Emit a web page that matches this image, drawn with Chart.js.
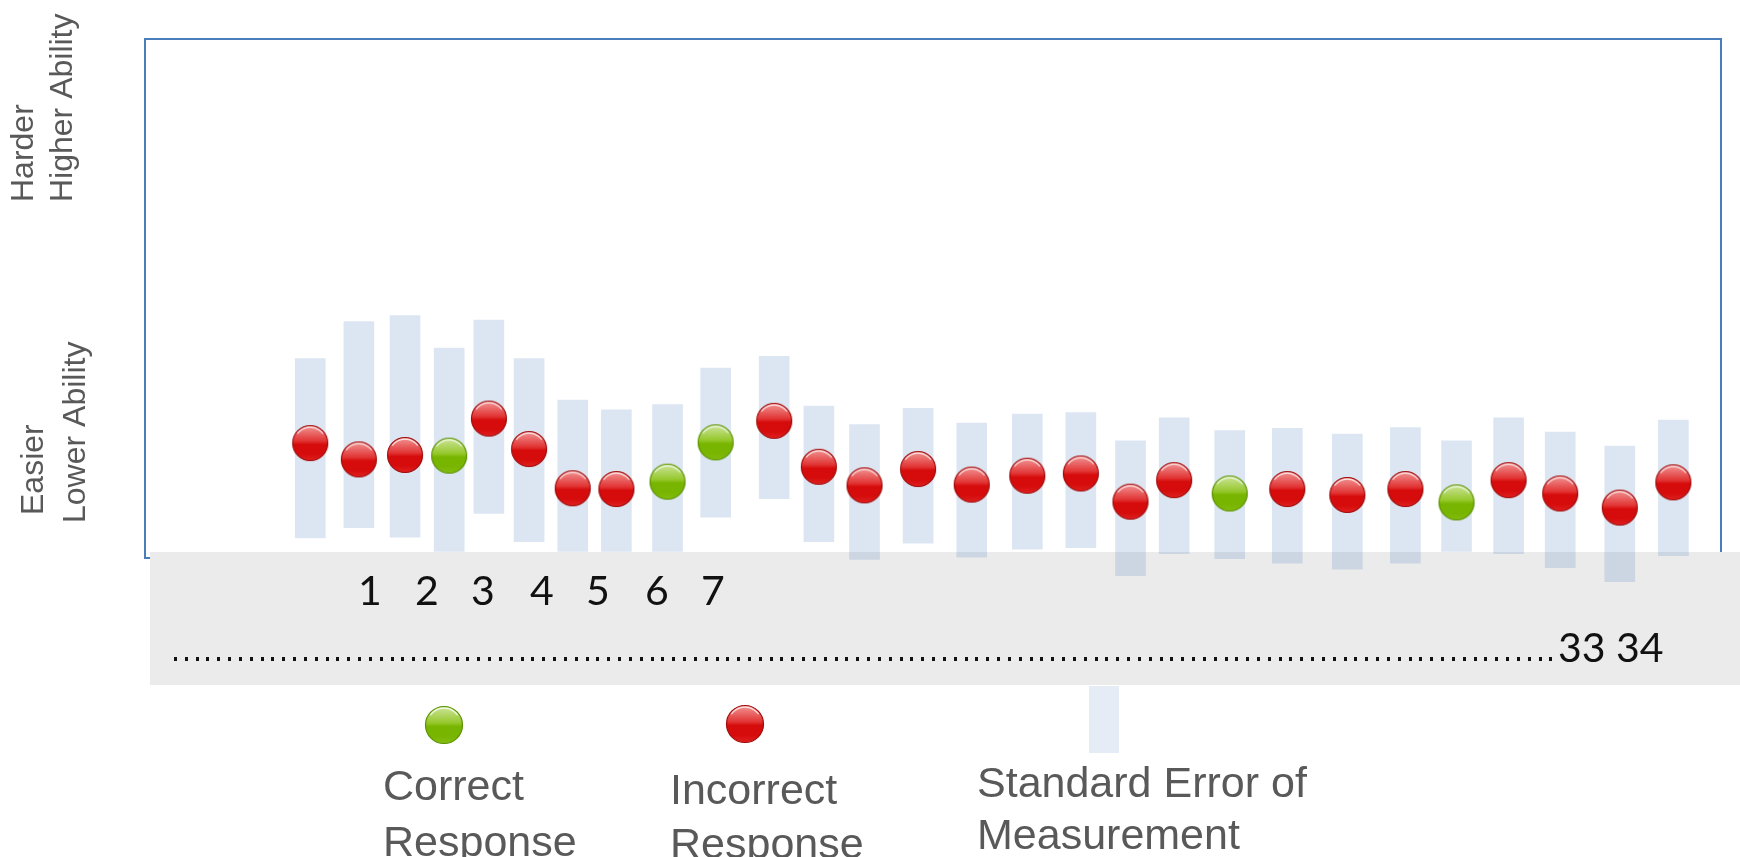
<!DOCTYPE html>
<html>
<head>
<meta charset="utf-8">
<script src="https://cdn.jsdelivr.net/npm/chart.js@4"></script>
<style>
  html, body { margin: 0; padding: 0; background: #fff; }
  canvas { display: block; }
</style>
</head>
<body>
<canvas id="myChart" width="1740" height="857"></canvas>
<script>
// urutan soal (posisi di sumbu x), estimasi kemampuan dan batas SEM (logit)
const itemPos = [3.33, 4.31, 5.24, 6.13, 6.93, 7.74, 8.62, 9.50, 10.53, 11.50, 12.68, 13.58, 14.50, 15.58,
  16.66, 17.78, 18.86, 19.86, 20.74, 21.86, 23.02, 24.23, 25.40, 26.43, 27.48, 28.52, 29.72, 30.80];
const ability = [-1.45, -1.67, -1.61, -1.62, -1.12, -1.53, -2.06, -2.07, -1.97, -1.44, -1.15, -1.77, -2.02, -1.80,
  -2.01, -1.89, -1.86, -2.24, -1.95, -2.13, -2.07, -2.15, -2.07, -2.25, -1.95, -2.13, -2.32, -1.98];
const semHigh = [-0.31, 0.19, 0.27, -0.17, 0.21, -0.31, -0.87, -1.00, -0.93, -0.44, -0.28, -0.95, -1.20, -0.98,
  -1.18, -1.06, -1.04, -1.42, -1.11, -1.28, -1.25, -1.33, -1.24, -1.42, -1.11, -1.30, -1.49, -1.14];
const semLow = [-2.73, -2.59, -2.72, -2.91, -2.40, -2.78, -2.91, -2.91, -2.91, -2.45, -2.20, -2.78, -3.02, -2.80,
  -2.99, -2.88, -2.86, -3.24, -2.94, -3.01, -3.07, -3.15, -3.07, -2.91, -2.94, -3.13, -3.32, -2.97];
// 1 = jawaban benar, 0 = salah
const correct = [0, 0, 0, 1, 0, 0, 0, 0, 1, 1, 0, 0, 0, 0, 0, 0, 0, 0, 0, 1, 0, 0, 0, 1, 0, 0, 0, 0];
const itemLabels = ['1', '2', '3', '4', '5', '6', '7'];
const lastLabels = '33 34';
const axisTop = ['Harder', 'Higher Ability'];
const axisBottom = ['Easier', 'Lower Ability'];
const legendText = [['Correct', 'Response'], ['Incorrect', 'Response'], ['Standard Error of', 'Measurement']];

// bola mengkilap buat titik
function makeBall(d, top, mid, base, bottom, edge) {
  const c = document.createElement('canvas');
  c.width = c.height = d + 2;
  const g = c.getContext('2d');
  const cx = (d + 2) / 2, r = d / 2;
  const body = g.createLinearGradient(0, cx - r, 0, cx + r);
  body.addColorStop(0, top);
  body.addColorStop(0.44, mid);
  body.addColorStop(0.54, base);
  body.addColorStop(0.8, base);
  body.addColorStop(1, bottom);
  g.beginPath();
  g.arc(cx, cx, r - 0.5, 0, Math.PI * 2);
  g.fillStyle = body;
  g.fill();
  g.lineWidth = 1.2;
  g.strokeStyle = edge;
  g.stroke();
  // kilau tipis di atas
  g.beginPath();
  g.arc(cx, cx, r - 2.2, Math.PI * 1.2, Math.PI * 1.8);
  g.strokeStyle = 'rgba(255,255,255,0.75)';
  g.lineWidth = 1.3;
  g.stroke();
  return c;
}

const redBall = makeBall(36, '#f29a9a', '#e23434', '#d60c0c', '#e02222', '#a00c0c');
const greenBall = makeBall(36, '#cfe6a0', '#96c82c', '#78b500', '#84bd12', '#5a9200');
const redBig = makeBall(38, '#f29a9a', '#e23434', '#d60c0c', '#e02222', '#a00c0c');
const greenBig = makeBall(38, '#cfe6a0', '#96c82c', '#78b500', '#84bd12', '#5a9200');

const backdrop = {
  id: 'backdrop',
  beforeDatasetsDraw(chart) {
    const { ctx, chartArea: a } = chart;
    ctx.save();
    // bingkai biru
    ctx.strokeStyle = '#4a7ebb';
    ctx.lineWidth = 2;
    ctx.strokeRect(a.left, a.top, a.right - a.left, a.bottom - a.top);
    // pita abu-abu di bawah
    ctx.fillStyle = '#ebebeb';
    ctx.fillRect(150, 552, 1590, 133);

    ctx.fillStyle = '#111';
    ctx.font = '41px Lato';
    ctx.textAlign = 'center';
    const xs = [370, 427, 483, 542, 598, 657, 713];
    itemLabels.forEach((t, i) => ctx.fillText(t, xs[i], 605));

    // garis titik-titik
    for (let x = 174; x < 1554; x += 10.83) {
      ctx.fillRect(Math.round(x), 657, 3, 4);
    }
    ctx.textAlign = 'left';
    ctx.fillText(lastLabels, 1558, 662);

    // label sumbu y (diputar)
    ctx.fillStyle = '#595959';
    ctx.font = '32px "Liberation Sans", Arial';
    const rot = (t, x, y) => {
      ctx.save();
      ctx.translate(x, y);
      ctx.rotate(-Math.PI / 2);
      ctx.fillText(t, 0, 0);
      ctx.restore();
    };
    rot(axisTop[0], 33, 202);
    rot(axisTop[1], 72, 202);
    rot(axisBottom[0], 43, 515);
    rot(axisBottom[1], 85, 523);
    ctx.restore();
  }
};

const legendDraw = {
  id: 'legendDraw',
  afterDraw(chart) {
    const { ctx } = chart;
    ctx.save();
    ctx.drawImage(greenBig, 444 - 20, 725 - 20);
    ctx.drawImage(redBig, 745 - 20, 724 - 20);
    ctx.fillStyle = 'rgba(79,129,189,0.15)';
    ctx.fillRect(1089, 686, 30, 67);

    ctx.fillStyle = '#595959';
    ctx.font = '43px "Liberation Sans", Arial';
    ctx.textAlign = 'left';
    ctx.fillText(legendText[0][0], 383, 800);
    ctx.fillText(legendText[0][1], 383, 856);
    ctx.fillText(legendText[1][0], 670, 804);
    ctx.fillText(legendText[1][1], 670, 858);
    ctx.fillText(legendText[2][0], 977, 797);
    ctx.fillText(legendText[2][1], 977, 849);
    ctx.restore();
  }
};

const ctx = document.getElementById('myChart').getContext('2d');

new Chart(ctx, {
  type: 'scatter',
  data: {
    datasets: [
      {
        type: 'scatter',
        data: itemPos.map((x, i) => ({ x: x, y: ability[i] })),
        pointStyle: c => correct[c.dataIndex] ? greenBall : redBall,
        pointRadius: 18,
        order: 0,
        clip: false
      },
      {
        type: 'bar',
        data: itemPos.map((x, i) => ({ x: x, y: [semLow[i], semHigh[i]] })),
        backgroundColor: 'rgba(79,129,189,0.2)',
        borderWidth: 0,
        barThickness: 30,
        order: 1,
        clip: false
      }
    ]
  },
  options: {
    responsive: false,
    animation: false,
    events: [],
    layout: { padding: { left: 145, top: 39, right: 7, bottom: 299 } },
    plugins: {
      legend: { display: false },
      tooltip: { enabled: false }
    },
    scales: {
      x: { type: 'linear', min: 0, max: 31.76, display: false, offset: false },
      y: { type: 'linear', min: -3, max: 4, display: false }
    }
  },
  plugins: [backdrop, legendDraw]
});
</script>
</body>
</html>
